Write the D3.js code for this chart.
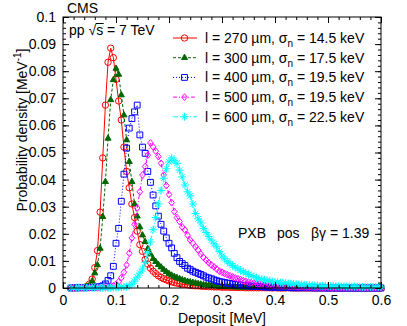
<!DOCTYPE html>
<html>
<head>
<meta charset="utf-8">
<script src="https://cdn.jsdelivr.net/npm/d3@7"></script>
<style>
  body { margin: 0; background: #fff; }
  text { font-family: "Liberation Sans", Arial, sans-serif; font-size: 14px; fill: #000; }
</style>
</head>
<body>
<div id="chart"></div>
<script>
// bin centres: 0.015 .. 0.6 MeV in steps of 0.005
const binStart = 0.015, binStep = 0.005;

const labels = ["270", "300", "400", "500", "600"];
const noise = ["14.5", "17.5", "19.5", "19.5", "22.5"];

const red = [
  0, 0, 0, 0.0001, 0.0001, 0.0002, 0.0006, 0.0015, 0.0033, 0.0075,
  0.0138, 0.028, 0.048, 0.0675, 0.0833, 0.0885, 0.085, 0.077, 0.069, 0.062,
  0.052, 0.043, 0.037, 0.031, 0.026, 0.021, 0.016, 0.0135, 0.0105, 0.0088,
  0.0073, 0.0062, 0.0053, 0.0045, 0.0039, 0.0034, 0.003, 0.0026, 0.0023, 0.002,
  0.0018, 0.0016, 0.0014, 0.0013, 0.0012, 0.001, 0.0009, 0.0008, 0.0008, 0.0007,
  0.0006, 0.0006, 0.0005, 0.0005, 0.0004, 0.0004, 0.0004, 0.0003, 0.0003, 0.0003,
  0.0003, 0.0002, 0.0002, 0.0002, 0.0002, 0.0002, 0.0001, 0.0001, 0.0001, 0.0001,
  0.0001, 0.0001, 0.0001, 0.0001, 0.0001, 0.0001, 0, 0.0001, 0, 0,
  0, 0, 0.0001, 0, 0, 0, 0, 0, 0, 0,
  0, 0, 0, 0, 0, 0, 0, 0, 0, 0,
  0, 0, 0, 0, 0, 0, 0, 0, 0, 0,
  0, 0, 0, 0, 0, 0, 0, 0
];
const green = [
  0, 0, 0, 0.0001, 0.0001, 0.0002, 0.0004, 0.001, 0.0025, 0.0055,
  0.0085, 0.0146, 0.0263, 0.0392, 0.0552, 0.0694, 0.0768, 0.081, 0.0788, 0.0712,
  0.0638, 0.0546, 0.0466, 0.0392, 0.031, 0.0265, 0.0225, 0.0195, 0.0171, 0.0145,
  0.0125, 0.0108, 0.0097, 0.0086, 0.0077, 0.0068, 0.006, 0.0053, 0.0047, 0.0042,
  0.0038, 0.0034, 0.003, 0.0027, 0.0024, 0.0022, 0.002, 0.0018, 0.0016, 0.0014,
  0.0012, 0.0011, 0.001, 0.0009, 0.0008, 0.0007, 0.0006, 0.0006, 0.0005, 0.0005,
  0.0004, 0.0004, 0.0003, 0.0003, 0.0003, 0.0002, 0.0002, 0.0002, 0.0002, 0.0001,
  0.0001, 0.0001, 0.0001, 0.0001, 0.0001, 0.0001, 0.0001, 0.0001, 0, 0.0001,
  0, 0, 0.0001, 0, 0, 0, 0, 0, 0, 0,
  0, 0, 0, 0, 0, 0, 0, 0, 0, 0,
  0, 0, 0, 0, 0, 0, 0, 0, 0, 0,
  0, 0, 0, 0, 0, 0, 0, 0
];
const blue = [
  0, 0.0001, 0.0001, 0.0001, 0.0001, 0.0001, 0.0001, 0.0002, 0.0002, 0.0003,
  0.0004, 0.0005, 0.0008, 0.0015, 0.0028, 0.0045, 0.008, 0.0165, 0.022, 0.032,
  0.042, 0.0516, 0.059, 0.0625, 0.065, 0.0675, 0.0565, 0.052, 0.0497, 0.043,
  0.039, 0.0343, 0.0303, 0.0265, 0.0235, 0.021, 0.0185, 0.0165, 0.0148, 0.0128,
  0.0112, 0.0098, 0.009, 0.0083, 0.0073, 0.0068, 0.0062, 0.0058, 0.0054, 0.005,
  0.0045, 0.004, 0.0037, 0.0034, 0.003, 0.0027, 0.0024, 0.0022, 0.002, 0.0018,
  0.0017, 0.0015, 0.0013, 0.0012, 0.0011, 0.001, 0.0009, 0.0008, 0.0007, 0.0006,
  0.0006, 0.0005, 0.0005, 0.0004, 0.0004, 0.0003, 0.0003, 0.0003, 0.0002, 0.0002,
  0.0002, 0.0002, 0.0002, 0.0001, 0.0001, 0.0001, 0.0001, 0.0001, 0.0001, 0.0001,
  0.0001, 0.0001, 0, 0.0001, 0, 0.0001, 0, 0, 0.0001, 0,
  0, 0, 0, 0, 0, 0, 0, 0, 0, 0,
  0, 0, 0, 0, 0, 0, 0, 0
];
const magenta = [
  0, 0.0001, 0.0001, 0.0001, 0.0001, 0.0001, 0.0001, 0.0001, 0.0001, 0.0001,
  0.0001, 0.0001, 0.0002, 0.0002, 0.0003, 0.0005, 0.0008, 0.0013, 0.0023, 0.0038,
  0.0058, 0.0085, 0.0128, 0.0185, 0.0235, 0.0295, 0.0355, 0.0417, 0.0448, 0.049,
  0.0535, 0.0521, 0.0505, 0.0485, 0.046, 0.0417, 0.0378, 0.0345, 0.0315, 0.0282,
  0.026, 0.0245, 0.0225, 0.0214, 0.0195, 0.0177, 0.0165, 0.0152, 0.014, 0.0125,
  0.0113, 0.0103, 0.0093, 0.0085, 0.0078, 0.007, 0.0062, 0.0058, 0.0053, 0.0049,
  0.0045, 0.0041, 0.0037, 0.0034, 0.0031, 0.0027, 0.0024, 0.0022, 0.002, 0.0018,
  0.0017, 0.0015, 0.0014, 0.0013, 0.0012, 0.0011, 0.001, 0.0009, 0.0008, 0.0008,
  0.0007, 0.0007, 0.0006, 0.0006, 0.0005, 0.0005, 0.0004, 0.0004, 0.0004, 0.0003,
  0.0003, 0.0003, 0.0003, 0.0002, 0.0002, 0.0002, 0.0002, 0.0002, 0.0002, 0.0001,
  0.0001, 0.0001, 0.0001, 0.0001, 0.0001, 0.0001, 0.0001, 0.0001, 0.0001, 0.0001,
  0.0001, 0.0001, 0.0001, 0.0001, 0.0001, 0.0001, 0.0001, 0.0001
];
const cyan = [
  0, 0, 0.0001, 0.0001, 0.0001, 0.0001, 0.0001, 0.0001, 0.0001, 0.0001,
  0.0001, 0.0001, 0.0001, 0.0001, 0.0001, 0.0001, 0.0002, 0.0002, 0.0003, 0.0003,
  0.0004, 0.0005, 0.0008, 0.0015, 0.0025, 0.004, 0.0055, 0.007, 0.0095, 0.013,
  0.017, 0.0215, 0.026, 0.031, 0.036, 0.0405, 0.044, 0.0465, 0.048, 0.047,
  0.046, 0.0435, 0.041, 0.038, 0.0355, 0.034, 0.031, 0.0275, 0.0255, 0.024,
  0.022, 0.0205, 0.019, 0.0177, 0.0163, 0.0152, 0.0135, 0.0118, 0.0108, 0.0098,
  0.009, 0.0083, 0.0077, 0.0071, 0.0066, 0.006, 0.0055, 0.005, 0.0046, 0.0042,
  0.0038, 0.0034, 0.0032, 0.003, 0.0028, 0.0026, 0.0024, 0.0022, 0.0021, 0.002,
  0.0019, 0.0018, 0.0017, 0.0016, 0.0015, 0.0014, 0.0013, 0.0012, 0.0012, 0.0011,
  0.001, 0.001, 0.0009, 0.0009, 0.0008, 0.0008, 0.0008, 0.0007, 0.0007, 0.0007,
  0.0006, 0.0006, 0.0006, 0.0006, 0.0005, 0.0005, 0.0005, 0.0005, 0.0005, 0.0004,
  0.0004, 0.0004, 0.0004, 0.0004, 0.0004, 0.0004, 0.0004, 0.0004
];

const xTicks = [0, 0.1, 0.2, 0.3, 0.4, 0.5, 0.6];
const yTicks = [0, 0.01, 0.02, 0.03, 0.04, 0.05, 0.06, 0.07, 0.08, 0.09, 0.1];

const width = 407, height = 326;
const mLeft = 63, mRight = 381, mTop = 17, mBottom = 288;

const svg = d3.select("#chart").append("svg")
  .attr("width", width)
  .attr("height", height);

const x = d3.scaleLinear().domain([0, 0.6]).range([mLeft, mRight]);
const y = d3.scaleLinear().domain([0, 0.1]).range([mBottom, mTop]);

// marker shapes
const asterisk = "M-4,0H4M0,-4V4M-2.8,-2.8L2.8,2.8M-2.8,2.8L2.8,-2.8";
const diamond = "M0,-3.4L2.8,0L0,3.4L-2.8,0Z";
const styles = [
  { values: red, color: "#ff0000", dash: null, marker: d3.symbol(d3.symbolCircle, 32)(), fill: "none" },
  { values: green, color: "#006600", dash: "3,2", marker: d3.symbol(d3.symbolTriangle, 16)(), fill: "#006600" },
  { values: blue, color: "#0000ff", dash: "1,2", marker: d3.symbol(d3.symbolSquare, 34)(), fill: "none" },
  { values: magenta, color: "#ff00ff", dash: "4,2,1,2", marker: diamond, fill: "none" },
  { values: cyan, color: "#00ffff", dash: "5,2,1,2", marker: asterisk, fill: "none" }
];

const line = d3.line()
  .x(d => x(d[0]))
  .y(d => y(d[1]));

styles.forEach(s => {
  const pts = s.values.map((v, i) => [binStart + i * binStep, v]);
  svg.append("path")
    .datum(pts)
    .attr("d", line)
    .attr("fill", "none")
    .attr("stroke", s.color)
    .attr("stroke-width", 1)
    .attr("stroke-dasharray", s.dash);
  svg.append("g").selectAll("path")
    .data(pts)
    .join("path")
    .attr("transform", d => "translate(" + x(d[0]) + "," + y(d[1]) + ")")
    .attr("d", s.marker)
    .attr("fill", s.fill)
    .attr("stroke", s.color)
    .attr("stroke-width", 1);
});

// frame
svg.append("rect")
  .attr("x", mLeft).attr("y", mTop)
  .attr("width", mRight - mLeft).attr("height", mBottom - mTop)
  .attr("fill", "none").attr("stroke", "#000").attr("stroke-width", 1);

const xMinor = d3.range(0, 0.6001, 0.02);
const yMinor = d3.range(0, 0.1001, 0.002);

// ticks inward on all four sides
function ticks(axisFn, scale, pos, values, size, fmt, pad) {
  const g = svg.append("g")
    .attr("transform", pos)
    .call(axisFn(scale).tickValues(values).tickSize(size).tickPadding(pad).tickFormat(fmt));
  g.select(".domain").remove();
  g.selectAll("text").style("font-size", "14px").attr("font-family", null);
  return g;
}
ticks(d3.axisBottom, x, "translate(0," + mBottom + ")", xMinor, -3, "", 0);
ticks(d3.axisTop, x, "translate(0," + mTop + ")", xMinor, -3, "", 0);
ticks(d3.axisLeft, y, "translate(" + mLeft + ",0)", yMinor, -3, "", 0);
ticks(d3.axisRight, y, "translate(" + mRight + ",0)", yMinor, -3, "", 0);
ticks(d3.axisBottom, x, "translate(0," + mBottom + ")", xTicks, -6, d => d === 0 ? "0" : d3.format(".1f")(d), 7);
ticks(d3.axisTop, x, "translate(0," + mTop + ")", xTicks, -6, "", 0);
ticks(d3.axisLeft, y, "translate(" + mLeft + ",0)", yTicks, -6, d => d === 0 ? "0" : d3.format(".2~f")(d), 7);
ticks(d3.axisRight, y, "translate(" + mRight + ",0)", yTicks, -6, "", 0);

// axis titles
svg.append("text")
  .attr("x", 222).attr("y", 323)
  .attr("text-anchor", "middle")
  .text("Deposit [MeV]");

const yl = svg.append("text")
  .attr("transform", "translate(27,130) rotate(-90)")
  .attr("text-anchor", "middle");
yl.append("tspan").text("Probability density [MeV");
yl.append("tspan").attr("dy", -6).style("font-size", "10px").text("-1");
yl.append("tspan").attr("dy", 6).text("]");

// labels
svg.append("text").attr("x", 67).attr("y", 12.5).text("CMS");

const pp = svg.append("text").attr("x", 69).attr("y", 35).text("pp \u221As = 7 TeV");
const sIdx = 4;
const sx0 = pp.node().getStartPositionOfChar(sIdx).x;
const sx1 = pp.node().getEndPositionOfChar(sIdx).x;
svg.append("line")
  .attr("x1", sx0 - 0.5).attr("x2", sx1 + 0.5)
  .attr("y1", 35 - 11.5).attr("y2", 35 - 11.5)
  .attr("stroke", "#000").attr("stroke-width", 1);

svg.append("text").attr("x", 238).attr("y", 238).text("PXB");
svg.append("text").attr("x", 277).attr("y", 238).text("pos");
svg.append("text").attr("x", 311).attr("y", 238).text("\u03B2\u03B3 = 1.39");

// legend
styles.forEach((s, i) => {
  const cy = 38 + i * 19.7;
  svg.append("line")
    .attr("x1", 173).attr("x2", 197)
    .attr("y1", cy).attr("y2", cy)
    .attr("stroke", s.color)
    .attr("stroke-width", 1)
    .attr("stroke-dasharray", s.dash);
  svg.append("path")
    .attr("transform", "translate(184.5," + cy + ")")
    .attr("d", s.marker)
    .attr("fill", s.fill)
    .attr("stroke", s.color);
  const t = svg.append("text").attr("x", 205).attr("y", cy + 5);
  t.append("tspan").text("l = " + labels[i] + " \u00B5m, \u03C3");
  t.append("tspan").attr("dy", 4).style("font-size", "10px").text("n");
  t.append("tspan").attr("dy", -4).text(" = " + noise[i] + " keV");
});
</script>
</body>
</html>
